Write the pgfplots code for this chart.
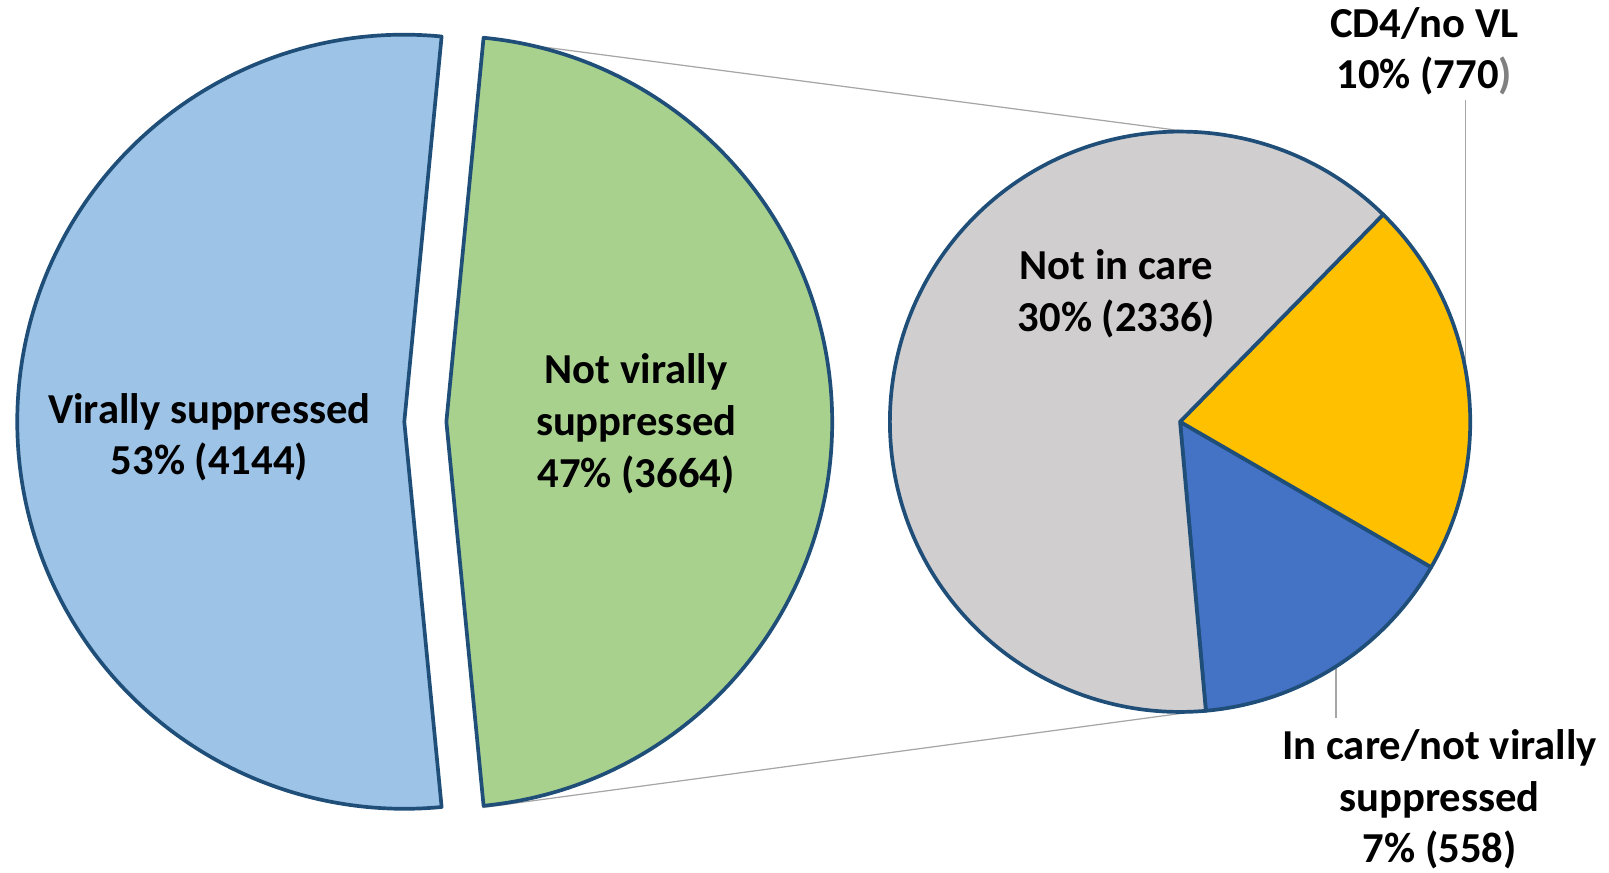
\documentclass[border=0pt]{standalone}
\usepackage{pgfplots}
\pgfplotsset{compat=1.18}
\usepackage{fontspec}
\setmainfont{Carlito}
\definecolor{vsblue}{HTML}{9DC3E6}
\definecolor{nvsgreen}{HTML}{A9D18E}
\definecolor{nicgray}{HTML}{D0CECE}
\definecolor{cdyellow}{HTML}{FFC000}
\definecolor{icblue}{HTML}{4472C4}
\definecolor{edge}{HTML}{1F4E79}
\definecolor{conn}{HTML}{A6A6A6}
\begin{document}
\begin{tikzpicture}[lbl/.style={font=\fontsize{10.4}{12.6}\selectfont\bfseries, align=center, inner sep=0pt}]
% counts
\def\vVS{4144}\def\vNVS{3664}
\def\vNIC{2336}\def\vCD{770}\def\vIC{558}
\pgfmathsetmacro\aL{180*(\vNVS/(\vVS+\vNVS))}
\pgfmathsetmacro\aB{360*(\vIC/\vNVS)}
\pgfmathsetmacro\aY{360*(\vCD/\vNVS)}
\pgfmathsetmacro\bS{-84.9}
\pgfmathsetmacro\bE{\bS+\aB}
\pgfmathsetmacro\yE{\bE+\aY}
\pgfmathsetmacro\gE{\bS+360}
\pgfmathsetmacro\aLn{360-\aL}
\begin{axis}[
  x=0.25pt, y=0.25pt,
  xmin=0, xmax=1568, ymin=0, ymax=850,
  hide axis, clip=false
]
\path (axis cs:0,0) rectangle (axis cs:1568,850);
% connector lines
\addplot[conn, line width=0.3pt, no marks] coordinates {(470,812) (1163,721)};
\addplot[conn, line width=0.3pt, no marks] coordinates {(470,63) (1175,158)};
% leader lines
\addplot[conn, line width=0.4pt, no marks] coordinates {(1428,753) (1428,480)};
\addplot[conn, line width=0.4pt, no marks] coordinates {(1302,200) (1302,150)};
% left pie
\filldraw[fill=vsblue, draw=edge, line width=0.9pt, line join=round]
  (axis cs:394,439) -- ++(\aL:94.3pt) arc[start angle=\aL, end angle=\aLn, radius=94.3pt] -- cycle;
\filldraw[fill=nvsgreen, draw=edge, line width=0.9pt, line join=round]
  (axis cs:435,439) -- ++(-\aL:94pt) arc[start angle=-\aL, end angle=\aL, radius=94pt] -- cycle;
% right pie
\filldraw[fill=icblue, draw=edge, line width=0.9pt, line join=round]
  (axis cs:1150,439) -- ++(\bS:70.7pt) arc[start angle=\bS, end angle=\bE, radius=70.7pt] -- cycle;
\filldraw[fill=cdyellow, draw=edge, line width=0.9pt, line join=round]
  (axis cs:1150,439) -- ++(\bE:70.7pt) arc[start angle=\bE, end angle=\yE, radius=70.7pt] -- cycle;
\filldraw[fill=nicgray, draw=edge, line width=0.9pt, line join=round]
  (axis cs:1150,439) -- ++(\yE:70.7pt) arc[start angle=\yE, end angle=\gE, radius=70.7pt] -- cycle;
% labels
\node[lbl] at (axis cs:204,424) {Virally suppressed\\53\% (4144)};
\node[lbl] at (axis cs:620,437) {Not virally\\suppressed\\47\% (3664)};
\node[lbl] at (axis cs:1088,564) {Not in care\\30\% (2336)};
\node[lbl] at (axis cs:1388,800) {CD4/no VL\\10\% (770{\color{gray})}};
\node[lbl] at (axis cs:1403,71) {In care/not virally\\suppressed\\7\% (558)};
\end{axis}
\end{tikzpicture}
\end{document}
